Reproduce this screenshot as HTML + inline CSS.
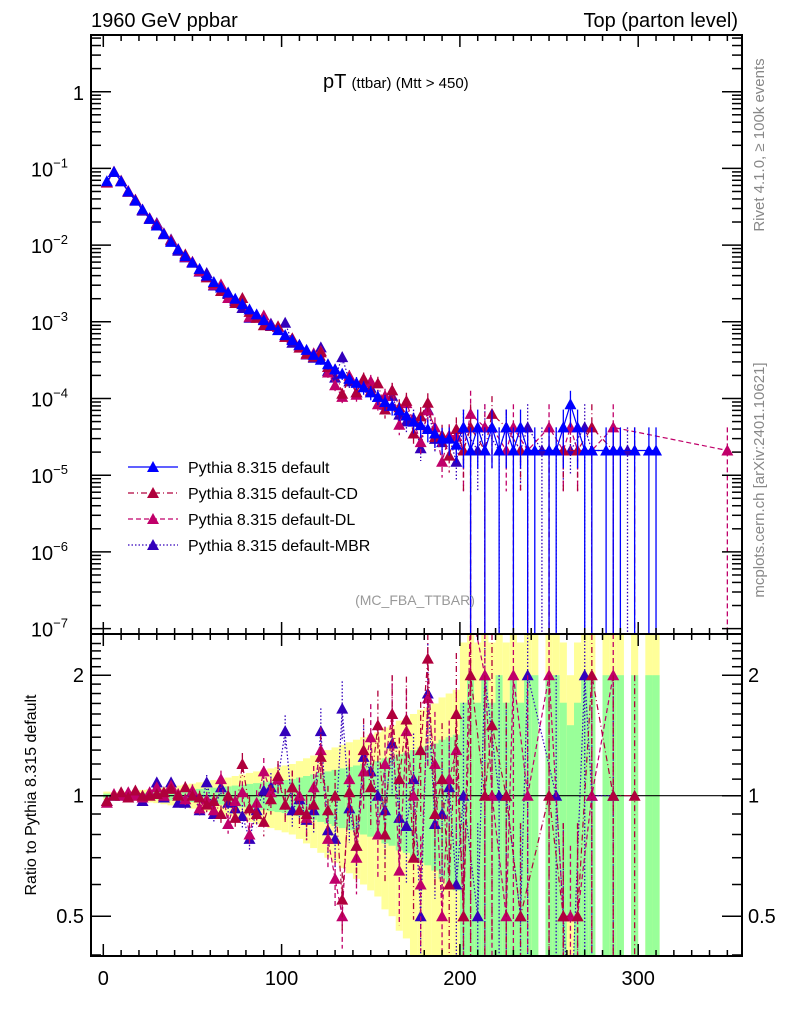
<!DOCTYPE html>
<html><head><meta charset="utf-8"><style>
html,body{margin:0;padding:0;background:#fff;width:786px;height:1024px;overflow:hidden;}
svg{display:block;font-family:"Liberation Sans",sans-serif;}
</style></head><body>
<svg id="c" width="786" height="1024" xmlns="http://www.w3.org/2000/svg"></svg>
<script>
const centersStep = 4;
const defHead = [0.068,0.09,0.068,0.05,0.038,0.029,0.022,0.018,0.014,0.011,0.0088,0.0072,0.0059,0.0049,0.0040,0.0033,0.0028,0.0024,0.0020,0.0017,0.00145,0.00125,0.00105,0.0009,0.00078,0.00067,0.00058,0.0005,0.00043,0.00037,0.00032,0.00028,0.00024,0.00021,0.00018,0.00016,0.00014,0.00012,0.000105,0.00009,0.00008,0.00007,0.00006,0.00005,0.000045,0.00004,0.000035,0.00003,0.00003,0.000025];
const relErrHead = [0.012,0.01,0.011,0.013,0.015,0.017,0.019,0.021,0.024,0.027,0.03,0.033,0.036,0.04,0.043,0.047,0.05,0.055,0.06,0.065,0.07,0.075,0.08,0.085,0.09,0.095,0.1,0.11,0.12,0.13,0.14,0.15,0.16,0.17,0.18,0.19,0.2,0.21,0.22,0.24,0.25,0.27,0.28,0.3,0.32,0.33,0.35,0.38,0.4,0.42];
const ratioCD = [0.97,1.0,1.02,0.99,1.03,1.0,1.0,1.01,1.02,1.04,1.0,1.05,1.0,0.99,0.95,0.97,0.9,1.0,0.88,1.2,0.93,0.9,0.86,0.98,1.12,0.95,1.05,0.92,0.9,0.95,1.25,0.92,1.0,0.55,1.02,0.75,1.3,1.05,1.5,0.8,1.6,1.1,1.55,0.7,1.3,2.2,0.9,1.1,0.6,1.6];
const ratioDL = [0.96,1.01,1.0,1.02,1.0,0.99,1.02,1.05,1.0,1.06,1.01,0.98,1.03,0.93,0.98,0.92,1.1,0.85,0.97,1.02,0.8,0.96,1.15,1.02,1.1,0.95,1.05,1.0,0.88,1.05,1.3,0.78,0.62,0.5,1.1,0.7,1.15,1.4,0.8,1.2,1.6,0.65,1.45,1.0,0.6,1.75,1.2,0.5,1.1,1.3];
const ratioMBR = [0.97,1.0,1.01,1.0,1.02,0.97,1.01,1.08,0.99,1.08,0.96,0.96,1.02,0.92,1.08,0.9,1.05,0.96,0.93,0.89,0.78,0.92,1.03,1.05,1.1,1.45,0.92,0.98,0.87,0.92,1.45,0.82,0.78,1.65,0.93,0.75,1.25,1.15,1.0,0.92,1.35,0.88,0.84,1.1,0.5,1.8,0.85,0.9,1.05,0.6];
const tailUnit = 2.1e-5;
const tailDef = [2,1,2,1,2,1,2,1,2,1,1,0,1,1,2,4,2,1,1,0,1,1,1,0,1,0,1,1,0,0,0,0,0,0,0,0,0,0];
const tailCD  = [1,2,0,1,3,0,2,0,1,0,0,0,1,0,1,0,1,0,2,0,0,1,0,0,1,0,0,0,0,0,0,0,0,0,0,0,0,0];
const tailDL  = [1,3,0,2,2,0,1,2,0,1,0,0,2,0,1,2,1,0,1,0,0,2,0,0,0,0,0,0,0,0,0,0,0,0,0,0,0,1];
const tailMBR = [2,0,1,2,0,1,2,0,1,2,0,1,0,1,1,1,0,2,1,0,0,1,0,1,0,0,0,0,0,0,0,0,0,0,0,0,0,0];
const seriesNames = ["Pythia 8.315 default","Pythia 8.315 default-CD","Pythia 8.315 default-DL","Pythia 8.315 default-MBR"];

const NS="http://www.w3.org/2000/svg";
const svg=document.getElementById('c');
function el(tag,attrs,parent){const e=document.createElementNS(NS,tag);for(const k in attrs)e.setAttribute(k,attrs[k]);(parent||svg).appendChild(e);return e;}
const L=91,R=742,T=35,MB=634,RB=956;
const X=v=>103.3+v*1.783;
const Y=v=>91.7-Math.log10(v)*76.7;
const YR=r=>795.7-Math.log2(r)*120.5;
const cl=(v,a,b)=>Math.max(a,Math.min(b,v));
const NB=88;
const centers=[];for(let i=0;i<NB;i++)centers.push(2+centersStep*i);
function build(head,ratio,tail){const a=[];for(let i=0;i<NB;i++){if(i<50)a.push(ratio?defHead[i]*ratio[i]:head[i]);else a.push((tail[i-50]||0)*tailUnit);}return a;}
const vals=[build(defHead,null,tailDef),build(null,ratioCD,tailCD),build(null,ratioDL,tailDL),build(null,ratioMBR,tailMBR)];
const relErr=[];for(let i=0;i<NB;i++){relErr.push(i<50?relErrHead[i]:(tailDef[i-50]?1/Math.sqrt(tailDef[i-50]):0));}
const colors=["#0000ff","#b0003c","#c0006a","#3300bb"];
const dashes=["none","6,3,1,3","5,3","1.5,2"];

const defs=el('defs',{});
const cp1=el('clipPath',{id:'cm'},defs);el('rect',{x:L,y:T,width:R-L,height:MB-T},cp1);
const cp2=el('clipPath',{id:'cr'},defs);el('rect',{x:L,y:MB,width:R-L,height:RB-MB},cp2);

const gBand=el('g',{'clip-path':'url(#cr)'});


for(let i=0;i<NB;i++){const s=relErr[i];if(!s)continue;
 const x0=X(centers[i]-2),w=X(centers[i]+2)-x0;
 const ylo=Math.max(1-2*s,0.3),yhi=1+2*s;
 const a=cl(YR(yhi),MB,RB),b=cl(YR(ylo),MB,RB);
 const r1=el('rect',{x:x0,y:a,width:w,height:b-a,fill:'#ffff99'},gBand);
 
 const glo=Math.max(1-s,0.3),ghi=1+s;
 const c=cl(YR(ghi),MB,RB),d=cl(YR(glo),MB,RB);
 const r2=el('rect',{x:x0,y:c,width:w,height:d-c,fill:'#99ff99'},gBand);
 }
el('line',{x1:L,x2:R,y1:YR(1),y2:YR(1),stroke:'#000','stroke-width':1.2});

function tri(g,x,y,c){const p=el('polygon',{points:`${x-6},${y+5} ${x+6},${y+5} ${x},${y-6}`,fill:c},g);}

for(let s=3;s>=0;s--){
 const gm=el('g',{'clip-path':'url(#cm)'});
 const gr=el('g',{'clip-path':'url(#cr)'});
 const v=vals[s];let pm=[],pr=[];
 for(let i=0;i<NB;i++){if(!v[i])continue;
  const x=X(centers[i]),e=relErr[i]||1;
  const lo=v[i]*(1-e),hi=v[i]*(1+e);
  el('line',{x1:x,x2:x,y1:cl(Y(hi),T,MB),y2:lo>0?cl(Y(lo),T,MB):MB,stroke:colors[s],'stroke-width':1.3,'stroke-dasharray':dashes[s]},gm);
  pm.push(x+','+Y(v[i]));
  if(vals[0][i]){const r=v[i]/vals[0][i];const ry=YR(r);
   const rlo=r*(1-e),rhi=r*(1+e);
   if(s>0)el('line',{x1:x,x2:x,y1:cl(YR(rhi),MB,RB),y2:rlo>0?cl(YR(rlo),MB,RB):RB,stroke:colors[s],'stroke-width':1.3,'stroke-dasharray':dashes[s]},gr);
   pr.push(x+','+ry);}
 }
 el('polyline',{points:pm.join(' '),fill:'none',stroke:colors[s],'stroke-width':1.2,'stroke-dasharray':dashes[s]},gm);
 if(s>0)el('polyline',{points:pr.join(' '),fill:'none',stroke:colors[s],'stroke-width':1.2,'stroke-dasharray':dashes[s]},gr);
 for(let i=0;i<NB;i++){if(!v[i])continue;const x=X(centers[i]);tri(gm,x,Y(v[i]),colors[s]);
  if(s>0&&vals[0][i])tri(gr,x,YR(v[i]/vals[0][i]),colors[s]);}
}

el('rect',{x:L,y:T,width:R-L,height:MB-T,fill:'none',stroke:'#000','stroke-width':2});
el('rect',{x:L,y:MB,width:R-L,height:RB-MB,fill:'none',stroke:'#000','stroke-width':2});
const ax=el('g',{stroke:'#000','stroke-width':1.5});
for(let v=0;v<=350;v+=10){const x=X(v),big=v%100==0,len=big?12:6;
 for(const [y,d] of [[T,1],[MB,-1],[MB,1],[RB,-1]])el('line',{x1:x,x2:x,y1:y,y2:y+d*len},ax);}
for(let d=-7;d<=0;d++){for(let m=1;m<10;m++){const v=m*Math.pow(10,d);const y=Y(v);if(y<T||y>MB)continue;const len=m==1?20:10;
 el('line',{x1:L,x2:L+len,y1:y,y2:y},ax);el('line',{x1:R,x2:R-len,y1:y,y2:y},ax);}}
for(let r=0.4;r<=2.5;r+=0.1){const y=YR(r);if(y<MB||y>RB)continue;const big=Math.abs(r-0.5)<1e-6||Math.abs(r-1)<1e-6||Math.abs(r-2)<1e-6;const len=big?20:10;
 el('line',{x1:L,x2:L+len,y1:y,y2:y},ax);el('line',{x1:R,x2:R-len,y1:y,y2:y},ax);}
function txt(s,x,y,attrs,name){const t=el('text',Object.assign({x:x,y:y,'font-size':20,fill:'#000'},attrs||{}));t.textContent=s;return t;}
[0,100,200,300].forEach(v=>txt(String(v),X(v),985,{'text-anchor':'middle'},'x-tick-label'));
txt('1',84,100,{'text-anchor':'end'},'y-tick-label');
for(let d=1;d<=7;d++){const t=txt('10',74,Y(Math.pow(10,-d))+8,{'text-anchor':'end'},'y-tick-label');
 const sp=el('tspan',{dy:-9,'font-size':13},t);sp.textContent='−'+d;t.setAttribute('x',68);}
[['2',2],['1',1],['0.5',0.5]].forEach(([s,r])=>{txt(s,84,YR(r)+7,{'text-anchor':'end'},'ratio-tick-label');txt(s,748,YR(r)+7,{},'ratio-tick-label-right');});
txt('1960 GeV ppbar',91,27,{},'energy-label');
txt('Top (parton level)',738,27,{'text-anchor':'end'},'process-label');
const tt=txt('pT ',323,88,{},'plot-title');const t2=el('tspan',{'font-size':15},tt);t2.textContent='(ttbar) (Mtt > 450)';
txt('(MC_FBA_TTBAR)',415,605,{'text-anchor':'middle','font-size':14,fill:'#999'},'analysis-id');
txt('Ratio to Pythia 8.315 default',36,795,{'text-anchor':'middle','font-size':16,transform:'rotate(-90 36 795)'},'ratio-y-axis-title');
txt('Rivet 4.1.0, ≥ 100k events',764,145,{'text-anchor':'middle','font-size':15,fill:'#888',transform:'rotate(-90 764 145)'},'rivet-label');
txt('mcplots.cern.ch [arXiv:2401.10621]',764,480,{'text-anchor':'middle','font-size':15,fill:'#888',transform:'rotate(-90 764 480)'},'mcplots-label');
const lg=el('g',{});
for(let s=0;s<4;s++){const y=467+26*s;
 const e=el('g',{},lg);
 el('line',{x1:128,x2:178,y1:y,y2:y,stroke:colors[s],'stroke-width':1.3,'stroke-dasharray':dashes[s]},e);
 tri(e,153,y,colors[s]);
 const t=el('text',{x:188,y:y+6,'font-size':16,fill:'#000'},e);t.textContent=seriesNames[s];
 }
</script>
</body></html>
